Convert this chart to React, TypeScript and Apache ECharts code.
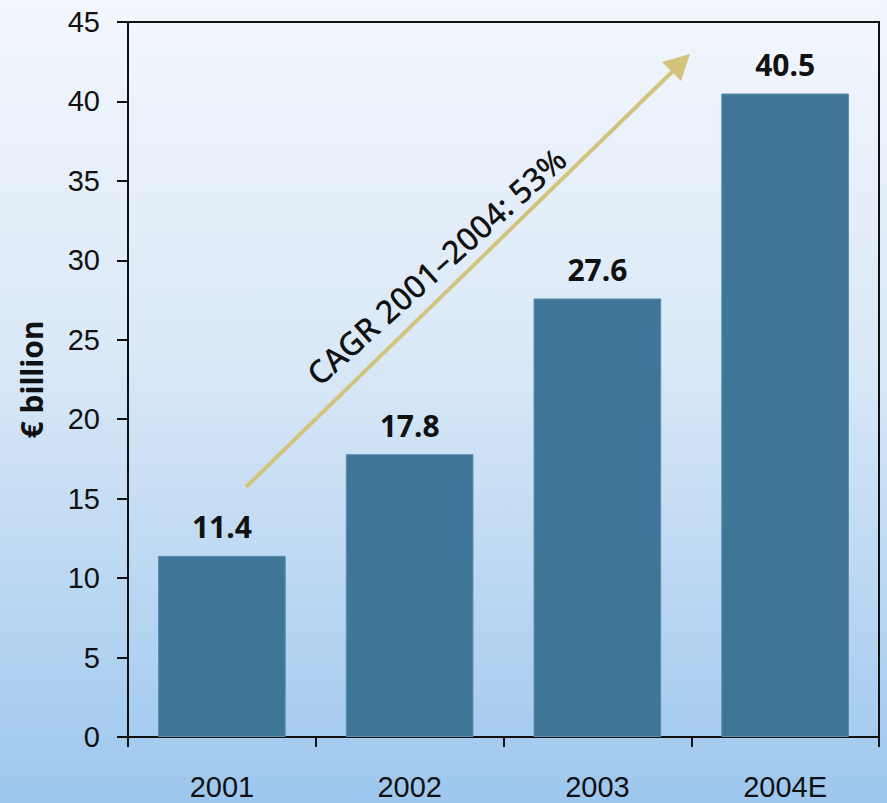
import React, { useEffect, useRef } from "react";
import * as echarts from "echarts";

const categories = ["2001", "2002", "2003", "2004E"];
const values = [11.4, 17.8, 27.6, 40.5];
const yMin = 0;
const yMax = 45;
const yInterval = 5;
const axisName = "€ billion";
const cagrText = "CAGR 2001–2004: 53%";

export default function App() {
  const ref = useRef<HTMLDivElement>(null);
  useEffect(() => {
    if (!ref.current) return;
    const chart = echarts.init(ref.current, null, { renderer: "svg" });
    const arrowColor = "#d3c47d";
    chart.setOption({
      animation: false,
      graphic: [
        {
          type: "rect",
          z: -10,
          silent: true,
          shape: { x: 0, y: 0, width: 887, height: 803 },
          style: {
            fill: new echarts.graphic.LinearGradient(0, 0, 0, 1, [
              { offset: 0, color: "#f3f7fd" },
              { offset: 0.45, color: "#d9e8f7" },
              { offset: 1, color: "#9dc7ee" },
            ]),
          },
        },
        {
          type: "line",
          z: 10,
          shape: { x1: 246, y1: 487, x2: 673, y2: 71 },
          style: { stroke: arrowColor, lineWidth: 4 },
        },
        {
          type: "polygon",
          z: 10,
          shape: { points: [[690, 54], [662, 62], [681, 81]] },
          style: { fill: arrowColor },
        },
        {
          type: "text",
          z: 10,
          x: 436,
          y: 266,
          rotation: (42 * Math.PI) / 180,
          style: {
            text: cagrText,
            x: 0,
            y: 0,
            align: "center",
            verticalAlign: "middle",
            fontFamily: "Noto Sans",
            fontSize: 32,
            fontWeight: 500,
            fill: "#111",
          },
        },
      ],
      grid: {
        left: 128,
        right: 8,
        top: 22,
        bottom: 66,
        show: true,
        borderColor: "#111",
        borderWidth: 2,
        backgroundColor: "transparent",
      },
      xAxis: {
        type: "category",
        data: categories,
        axisLine: { lineStyle: { color: "#111", width: 2 } },
        axisTick: { show: true, length: 10, lineStyle: { color: "#111", width: 2 } },
        axisLabel: {
          color: "#111",
          fontSize: 29,
          fontFamily: "Liberation Sans",
          margin: 35,
        },
      },
      yAxis: {
        type: "value",
        min: yMin,
        max: yMax,
        interval: yInterval,
        name: axisName,
        nameLocation: "middle",
        nameGap: 82,
        nameTextStyle: {
          color: "#111",
          fontSize: 30,
          fontWeight: "bold",
          fontFamily: "Noto Sans",
        },
        splitLine: { show: false },
        axisLine: { show: true, lineStyle: { color: "#111", width: 2 } },
        axisTick: { show: true, length: 11, lineStyle: { color: "#111", width: 2 } },
        axisLabel: {
          color: "#111",
          fontSize: 29,
          fontFamily: "Liberation Sans",
          margin: 28,
        },
      },
      series: [
        {
          type: "bar",
          data: values,
          barWidth: "68%",
          itemStyle: { color: "#3f7698", borderColor: "#5c8db0", borderWidth: 1 },
          label: {
            show: true,
            position: "top",
            distance: 14,
            color: "#111",
            fontSize: 30,
            fontWeight: "bold",
            fontFamily: "Noto Sans",
          },
        },
      ],
    });
    return () => chart.dispose();
  }, []);
  return (
    <div
      ref={ref}
      style={{ position: "absolute", left: 0, top: 0, width: 887, height: 803 }}
    />
  );
}
